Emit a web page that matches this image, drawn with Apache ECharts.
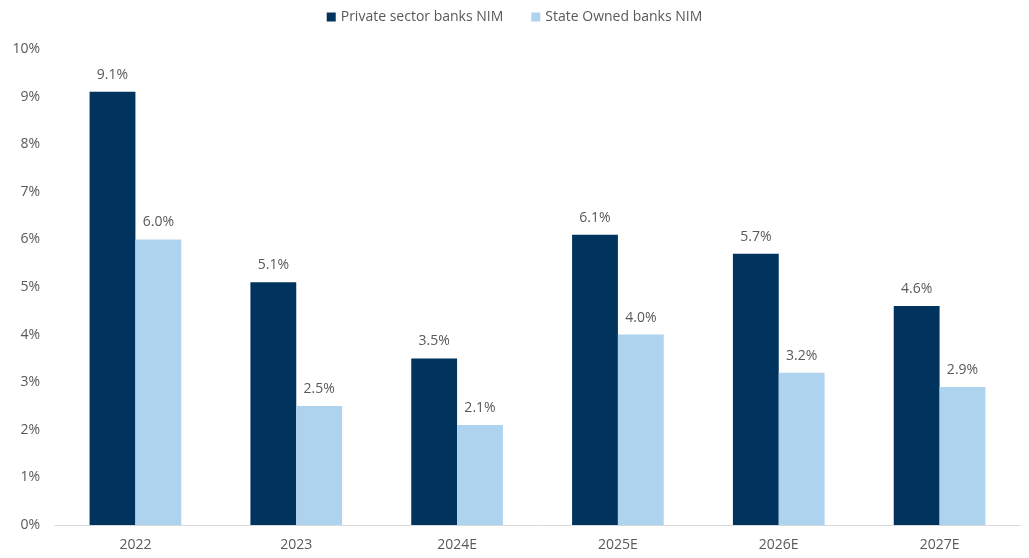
<!DOCTYPE html>
<html>
<head>
<meta charset="utf-8">
<script src="https://cdn.jsdelivr.net/npm/echarts@6/dist/echarts.min.js"></script>
<style>
  html, body { margin: 0; padding: 0; background: #fff; }
  #chart { width: 1029px; height: 558px; }
</style>
</head>
<body>
<div id="chart"></div>
<script>
// Net interest margin by year, private vs state-owned banks (%)
const categories = ['2022', '2023', '2024E', '2025E', '2026E', '2027E'];
const privateNim = [9.1, 5.1, 3.5, 6.1, 5.7, 4.6];
const stateNim = [6.0, 2.5, 2.1, 4.0, 3.2, 2.9];
const seriesNames = ['Private sector banks NIM', 'State Owned banks NIM'];

const font = '"Open Sans", "Liberation Sans", sans-serif';
const textColor = '#595959';

const chart = echarts.init(document.getElementById('chart'), null, { renderer: 'canvas' });

const labelStyle = {
  show: true,
  position: 'top',
  distance: 10,
  color: textColor,
  fontFamily: font,
  fontSize: 14,
  formatter: p => p.value.toFixed(1) + '%'
};

chart.setOption({
  animation: false,
  textStyle: { fontFamily: font },
  legend: {
    top: 5,
    left: 'center',
    itemWidth: 9,
    itemHeight: 9,
    itemGap: 28,
    icon: 'rect',
    textStyle: { color: textColor, fontSize: 14, fontFamily: font },
    data: seriesNames
  },
  grid: { left: 55, right: 9, top: 49, bottom: 33 },
  xAxis: {
    type: 'category',
    data: categories,
    axisLine: { lineStyle: { color: '#d9d9d9', width: 1 } },
    axisTick: { show: false },
    axisLabel: { color: textColor, fontSize: 14, fontFamily: font, margin: 13 }
  },
  yAxis: {
    type: 'value',
    min: 0,
    max: 10,
    interval: 1,
    axisLine: { show: false },
    axisTick: { show: false },
    splitLine: { show: false },
    axisLabel: {
      color: textColor,
      fontSize: 14,
      fontFamily: font,
      margin: 15,
      formatter: v => v + '%'
    }
  },
  series: [
    {
      name: seriesNames[0],
      type: 'bar',
      data: privateNim,
      barGap: '0%',
      barCategoryGap: '43%',
      itemStyle: { color: '#00335E' },
      label: labelStyle
    },
    {
      name: seriesNames[1],
      type: 'bar',
      data: stateNim,
      barGap: '0%',
      barCategoryGap: '43%',
      itemStyle: { color: '#AED3EF' },
      label: labelStyle
    }
  ]
});
</script>
</body>
</html>
